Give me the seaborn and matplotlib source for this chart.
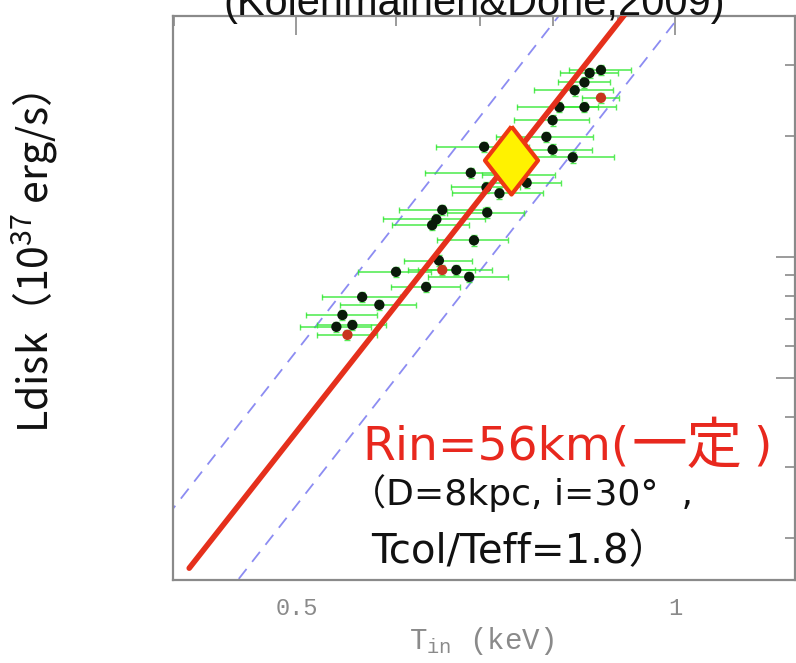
import matplotlib
matplotlib.use("Agg")
import matplotlib.pyplot as plt
from matplotlib.ticker import FixedLocator, NullFormatter, FixedFormatter
import numpy as np
import pandas as pd
import seaborn as sns

# --- data (T_in in keV, Ldisk in 1e37 erg/s) ---
t_in = [0.873, 0.855, 0.847, 0.832, 0.873, 0.847, 0.809, 0.799, 0.790, 0.799,
        0.829, 0.705, 0.688, 0.762, 0.725, 0.708, 0.752, 0.653, 0.646, 0.641,
        0.709, 0.692, 0.649, 0.600, 0.653, 0.670, 0.686, 0.634, 0.564, 0.544,
        0.554, 0.538, 0.549, 0.582]
l_disk = [2.92, 2.87, 2.72, 2.60, 2.49, 2.36, 2.36, 2.19, 1.99, 1.85,
          1.77, 1.88, 1.62, 1.53, 1.44, 1.49, 1.60, 1.31, 1.24, 1.20,
          1.29, 1.10, 0.98, 0.918, 0.928, 0.928, 0.892, 0.842, 0.795, 0.717,
          0.677, 0.670, 0.640, 0.760]
t_err = [0.050, 0.045, 0.040, 0.060, 0.030, 0.050, 0.060, 0.055, 0.070, 0.060,
         0.065, 0.060, 0.055, 0.050, 0.060, 0.045, 0.050, 0.050, 0.060, 0.045,
         0.050, 0.045, 0.040, 0.040, 0.040, 0.045, 0.050, 0.040, 0.040, 0.035,
         0.035, 0.035, 0.030, 0.040]
kind = ["obs"] * 34
for i in (4, 24, 32):
    kind[i] = "red"

# model lines (endpoints)
model_t = [0.411, 0.92]
model_l = [0.168, 4.16]
upper_t = [0.395, 0.82]
upper_l = [0.227, 4.22]
lower_t = [0.45, 1.02]
lower_l = [0.158, 4.17]

point_t = [0.740]
point_l = [1.745]

sns.set_style("white")
plt.rcParams['font.family'] = ['Noto Sans CJK JP', 'DejaVu Sans']
wide = ['DejaVu Sans', 'Noto Sans CJK JP']

fig = plt.figure(figsize=(7.96, 6.63), dpi=100)
ax = fig.add_axes([173 / 796, 1 - 580 / 663, (795 - 173) / 796, (580 - 16) / 663])

df = pd.DataFrame({"T": t_in, "L": l_disk, "err": t_err, "kind": kind})

ax.errorbar(df["T"], df["L"], xerr=df["err"], yerr=df["L"] * 0.03, fmt="none",
            ecolor="#2ee82e", elinewidth=1.2, capsize=2.5, alpha=0.8, zorder=2)
sns.scatterplot(data=df, x="T", y="L", hue="kind",
                palette={"obs": "#0a1a0a", "red": "#c8341e"},
                s=55, edgecolor="none", legend=False, ax=ax, zorder=3)

sns.lineplot(x=upper_t, y=upper_l, color="#8c8cf2", lw=1.3,
             linestyle=(0, (7, 5)), ax=ax, zorder=1)
sns.lineplot(x=lower_t, y=lower_l, color="#8c8cf2", lw=1.3,
             linestyle=(0, (7, 5)), ax=ax, zorder=1)
sns.lineplot(x=model_t, y=model_l, color="#e5301c", lw=4, ax=ax, zorder=4)

diamond = [(0, 1), (0.78, 0), (0, -1), (-0.78, 0), (0, 1)]
ax.plot(point_t, point_l, marker=diamond, markersize=49, color="#fff200",
        markeredgecolor="#ee3812", markeredgewidth=3, ls="none", zorder=6)

ax.set_xscale("log")
ax.set_yscale("log")
ax.set_xlim(0.399, 1.245)
ax.set_ylim(0.157, 3.98)

ax.xaxis.set_major_locator(FixedLocator([0.5, 1.0]))
ax.xaxis.set_major_formatter(FixedFormatter(["0.5", "1"]))
ax.xaxis.set_minor_locator(FixedLocator([0.4, 0.6, 0.7, 0.8, 0.9]))
ax.xaxis.set_minor_formatter(NullFormatter())
ax.yaxis.set_major_locator(FixedLocator([0.5, 1.0]))
ax.yaxis.set_minor_locator(FixedLocator([0.2, 0.3, 0.4, 0.6, 0.7, 0.8, 0.9, 2, 3]))
ax.yaxis.set_major_formatter(NullFormatter())
ax.yaxis.set_minor_formatter(NullFormatter())

gray = "#8a8a8a"
ax.tick_params(which="both", direction="in", top=True, right=True, color=gray,
               width=1.2, labelleft=False)
ax.tick_params(which="major", length=14, pad=12, labelsize=17,
               labelcolor=gray, labelfontfamily="Liberation Mono")
ax.tick_params(which="minor", length=7)
for sp in ax.spines.values():
    sp.set_color(gray)
    sp.set_linewidth(1.6)
ax.set_xlabel("")
ax.set_ylabel("")

fig.text(482 / 796, 1 - 641 / 663, r"T$\mathregular{_{in}}$ (keV)", ha="center",
         va="center", fontsize=21, color=gray, family="Liberation Mono")

fig.text(35 / 796, 1 - 262 / 663, "Ldisk（10$\\mathregular{^{37}}$ erg/s）",
         rotation=90, ha="center", va="center", fontsize=29.5, color="#111111")

fig.text(474 / 796, 1 - 15 / 663, "(Kolehmainen&Done,2009)", ha="center",
         va="baseline", fontsize=30, color="#111111", family="Liberation Sans",
         zorder=10)

red = "#e8281e"
fig.text(362 / 796, 1 - 460 / 663, "Rin=56km(", ha="left", va="baseline",
         fontsize=34, color=red, family=wide)
fig.text(632 / 796, 1 - 463 / 663, "一定", ha="left", va="baseline",
         fontsize=40, color=red, family="Noto Sans CJK JP")
fig.text(753 / 796, 1 - 460 / 663, ")", ha="left", va="baseline",
         fontsize=34, color=red, family=wide)
fig.text(350 / 796, 1 - 505 / 663, "（D=8kpc, i=30°  ,", ha="left", va="baseline",
         fontsize=26, color="#111111", family=wide)
fig.text(371 / 796, 1 - 563 / 663, "Tcol/Teff=1.8）", ha="left", va="baseline",
         fontsize=29, color="#111111", family=wide)

fig.savefig("out.png", dpi=100)
